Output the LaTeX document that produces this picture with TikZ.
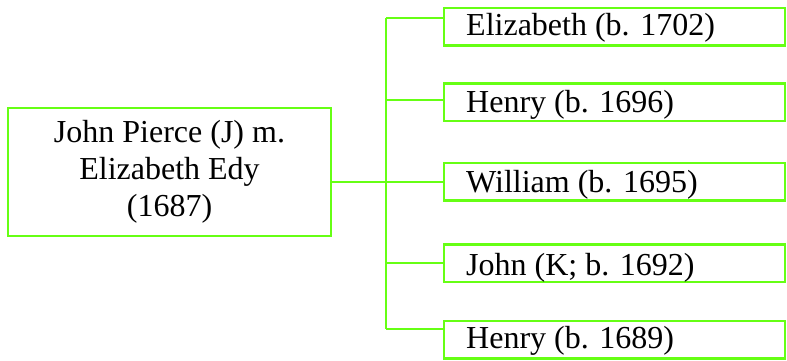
\documentclass[tikz,border=0pt]{standalone}
\usepackage{fontspec}
\setmainfont{Liberation Serif}
\definecolor{lime}{RGB}{102,255,20}
\begin{document}
\begin{tikzpicture}[x=1pt,y=-1pt,
  box/.style={draw=lime,line width=2.5pt,rectangle,minimum width=341pt,minimum height=37.5pt,inner sep=0pt,outer sep=0pt},
  pbox/.style={draw=lime,line width=2.5pt,rectangle,minimum width=323pt,minimum height=128pt,inner sep=0pt,outer sep=0pt,align=center,font=\fontsize{32}{37}\selectfont},
  lbl/.style={anchor=base west,inner sep=0pt,font=\fontsize{32}{37}\selectfont},
  link/.style={draw=lime,line width=2.5pt}]
\useasboundingbox (0,0) rectangle (787,360);
\node[pbox] (p) at (169.5,172) {John Pierce (J) m.\\Elizabeth Edy\\(1687)};
\node[box] (b1) at (614.5,26.5) {};
\node[box] (b2) at (614.5,102) {};
\node[box] (b3) at (614.5,181.5) {};
\node[box] (b4) at (614.5,263) {};
\node[box] (b5) at (614.5,339.5) {};
\node[lbl] (t1) at (466,35.5) {Elizabeth (b. 1702)};
\node[lbl] (t2) at (466,112) {Henry (b. 1696)};
\node[lbl] (t3) at (466,192) {William (b. 1695)};
\node[lbl] (t4) at (466,275) {John (K; b. 1692)};
\node[lbl] (t5) at (466,348) {Henry (b. 1689)};
\coordinate (j1) at (386,18);
\coordinate (j2) at (386,100);
\coordinate (j3) at (386,182);
\coordinate (j4) at (386,263);
\coordinate (j5) at (386,329);
\draw[link] (j1) -- (j5);
\draw[link] (p.east |- j3) -- (j3);
\draw[link] (j1) -- (j1 -| b1.west);
\draw[link] (j2) -- (j2 -| b2.west);
\draw[link] (j3) -- (j3 -| b3.west);
\draw[link] (j4) -- (j4 -| b4.west);
\draw[link] (j5) -- (j5 -| b5.west);
\end{tikzpicture}
\end{document}
